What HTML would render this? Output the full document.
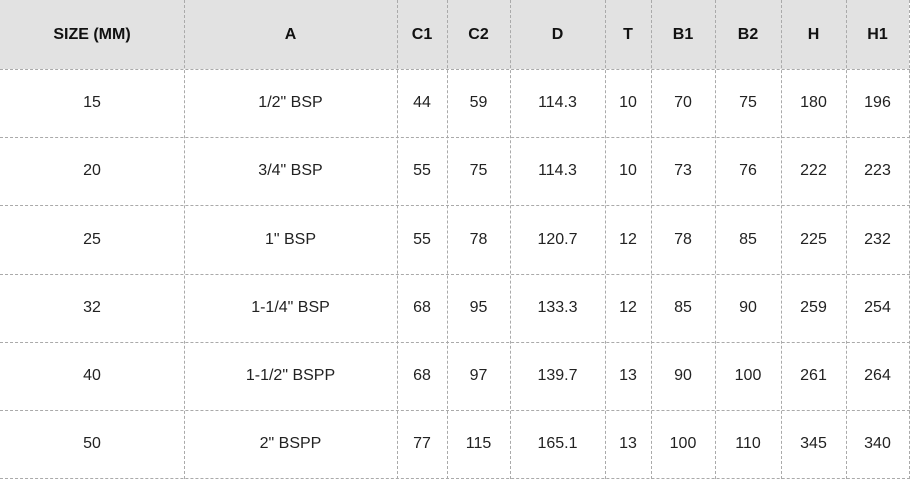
<!DOCTYPE html>
<html><head><style>
body{margin:0;width:912px;height:479px;background:#fff;position:relative;overflow:hidden;font-family:"Liberation Sans",Arial,sans-serif;font-size:16px;color:#222}
.hd{position:absolute;left:0;top:0;width:909px;height:69px;background:#e2e2e2}
.v{position:absolute;top:0;height:479px;border-left:1px dashed #aaa}
.h{position:absolute;left:0;width:910px;border-top:1px dashed #aaa}
.c{position:absolute;text-align:center;line-height:20px}
.b{font-weight:bold;color:#111}
</style></head><body>
<div class="hd"></div>
<div id="g"></div>
<script>
var xs=[0,184,397,447,510,605,651,715,781,846,909];
var ys=[0,69,137,205,274,342,410,478];
var rows=[["SIZE (MM)","A","C1","C2","D","T","B1","B2","H","H1"],
["15",'1/2" BSP',"44","59","114.3","10","70","75","180","196"],
["20",'3/4" BSP',"55","75","114.3","10","73","76","222","223"],
["25",'1" BSP',"55","78","120.7","12","78","85","225","232"],
["32",'1-1/4" BSP',"68","95","133.3","12","85","90","259","254"],
["40",'1-1/2" BSPP',"68","97","139.7","13","90","100","261","264"],
["50",'2" BSPP',"77","115","165.1","13","100","110","345","340"]];
var h="";
for(var i=1;i<xs.length;i++)h+='<div class="v" style="left:'+xs[i]+'px"></div>';
for(var j=1;j<ys.length;j++)h+='<div class="h" style="top:'+ys[j]+'px"></div>';
for(var r=0;r<rows.length;r++)for(var c=0;c<10;c++){
var t=(ys[r]+ys[r+1])/2-10;
h+='<div class="c'+(r==0?' b':'')+'" style="left:'+xs[c]+'px;width:'+(xs[c+1]-xs[c])+'px;top:'+t+'px">'+rows[r][c]+'</div>';}
document.getElementById("g").innerHTML=h;
</script>
</body></html>
